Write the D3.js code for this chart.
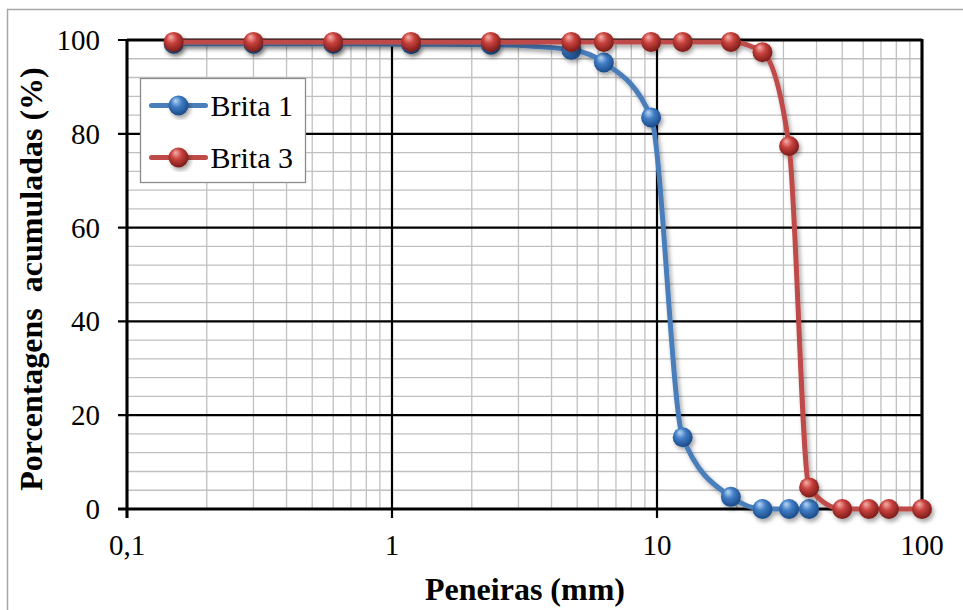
<!DOCTYPE html>
<html>
<head>
<meta charset="utf-8">
<script src="https://cdn.jsdelivr.net/npm/d3@7"></script>
<style>
  html, body { margin: 0; padding: 0; background: #fff; }
  svg { display: block; }
  .tick-label { font-family: "Liberation Serif", "DejaVu Serif", serif; font-size: 29px; fill: #000; }
  .axis-title { font-family: "Liberation Serif", "DejaVu Serif", serif; font-size: 32px; font-weight: bold; fill: #000; }
  .legend-label { font-family: "Liberation Serif", "DejaVu Serif", serif; font-size: 30px; fill: #000; }
</style>
</head>
<body>
<div id="chart"></div>
<script>
// sieve openings (mm) and cumulative retained (%)
const sieves1 = [0.15, 0.3, 0.6, 1.18, 2.36, 4.75, 6.3, 9.5, 12.5, 19, 25, 31.5, 37.5];
const brita1 = [99.2, 99.2, 99.2, 99.1, 99.0, 97.9, 95.2, 83.5, 15.3, 2.6, 0, 0, 0];

const sieves3 = [0.15, 0.3, 0.6, 1.18, 2.36, 4.75, 6.3, 9.5, 12.5, 19, 25, 31.5, 37.5, 50, 63, 75, 100];
const brita3 = [99.6, 99.6, 99.6, 99.6, 99.6, 99.6, 99.6, 99.6, 99.6, 99.6, 97.4, 77.4, 4.6, 0, 0, 0, 0];

const xTicks = [0.1, 1, 10, 100];
const xTickLabels = ["0,1", "1", "10", "100"];
const yTicks = [0, 20, 40, 60, 80, 100];

const seriesNames = ["Brita 1", "Brita 3"];

const W = 963, H = 610;
const margin = {top: 40, right: 41, bottom: 101, left: 127},
    width = W - margin.left - margin.right,
    height = H - margin.top - margin.bottom;

const svg = d3.select("#chart")
    .append("svg")
    .attr("width", W)
    .attr("height", H);

// outer chart frame (cropped on the right and bottom)
svg.append("rect")
    .attr("x", 7.5).attr("y", 9.5)
    .attr("width", 1000).attr("height", 700)
    .attr("fill", "none")
    .attr("stroke", "#a6a6a6")
    .attr("stroke-width", 1.5);

const defs = svg.append("defs");

const shadow = defs.append("filter")
    .attr("id", "shadow")
    .attr("x", "-20%").attr("y", "-20%")
    .attr("width", "140%").attr("height", "140%");
shadow.append("feDropShadow")
    .attr("dx", 2).attr("dy", 3)
    .attr("stdDeviation", 2)
    .attr("flood-color", "#000")
    .attr("flood-opacity", 0.35);

function sphereGradient(id, light, mid, dark) {
    const g = defs.append("radialGradient")
        .attr("id", id)
        .attr("cx", "45%").attr("cy", "40%").attr("r", "60%")
        .attr("fx", "35%").attr("fy", "25%");
    g.append("stop").attr("offset", "0%").attr("stop-color", light);
    g.append("stop").attr("offset", "45%").attr("stop-color", mid);
    g.append("stop").attr("offset", "100%").attr("stop-color", dark);
}
sphereGradient("ball-blue", "#b9d6f6", "#3f7cc4", "#1b4a86");
sphereGradient("ball-red", "#f6b1ad", "#c8413d", "#7a1b19");

const lineColors = ["#4a7ebb", "#be4b48"];
const balls = ["url(#ball-blue)", "url(#ball-red)"];

const g = svg.append("g")
    .attr("transform", `translate(${margin.left},${margin.top})`);

const xScale = d3.scaleLog()
    .domain([0.1, 100])
    .range([0, width]);

const yScale = d3.scaleLinear()
    .domain([0, 100])
    .range([height, 0]);

// minor gridlines
const minorX = [];
[0.1, 1, 10].forEach(d => { for (let k = 2; k <= 9; k++) minorX.push(d * k); });
const minorY = d3.range(0, 101, 4).filter(v => v % 20 !== 0);

g.selectAll(".minor-x")
    .data(minorX)
    .enter().append("line")
    .attr("class", "minor-x")
    .attr("x1", d => xScale(d)).attr("x2", d => xScale(d))
    .attr("y1", 0).attr("y2", height)
    .attr("stroke", "#c0c0c0")
    .attr("stroke-width", 1.3);

g.selectAll(".minor-y")
    .data(minorY)
    .enter().append("line")
    .attr("class", "minor-y")
    .attr("x1", 0).attr("x2", width)
    .attr("y1", d => yScale(d)).attr("y2", d => yScale(d))
    .attr("stroke", "#c0c0c0")
    .attr("stroke-width", 1.3);

// major gridlines
g.selectAll(".major-x")
    .data(xTicks)
    .enter().append("line")
    .attr("class", "major-x")
    .attr("x1", d => xScale(d)).attr("x2", d => xScale(d))
    .attr("y1", 0).attr("y2", height + 9)
    .attr("stroke", "#000")
    .attr("stroke-width", 2.2);

g.selectAll(".major-y")
    .data(yTicks)
    .enter().append("line")
    .attr("class", "major-y")
    .attr("x1", -9).attr("x2", width)
    .attr("y1", d => yScale(d)).attr("y2", d => yScale(d))
    .attr("stroke", "#000")
    .attr("stroke-width", 2.2);

// axis lines a bit heavier
g.append("line")
    .attr("x1", 0).attr("x2", 0)
    .attr("y1", 0).attr("y2", height + 9)
    .attr("stroke", "#000").attr("stroke-width", 3);
g.append("line")
    .attr("x1", -9).attr("x2", width + 1)
    .attr("y1", height).attr("y2", height)
    .attr("stroke", "#000").attr("stroke-width", 3);
g.append("line")
    .attr("x1", width).attr("x2", width)
    .attr("y1", -1).attr("y2", height)
    .attr("stroke", "#000").attr("stroke-width", 3);
g.append("line")
    .attr("x1", 0).attr("x2", width)
    .attr("y1", 0).attr("y2", 0)
    .attr("stroke", "#000").attr("stroke-width", 3);

// tick labels
g.selectAll(".x-label")
    .data(xTicks)
    .enter().append("text")
    .attr("class", "tick-label")
    .attr("text-anchor", "middle")
    .attr("x", d => xScale(d))
    .attr("y", height + 46)
    .text((d, i) => xTickLabels[i]);

g.selectAll(".y-label")
    .data(yTicks)
    .enter().append("text")
    .attr("class", "tick-label")
    .attr("text-anchor", "end")
    .attr("x", -27)
    .attr("y", d => yScale(d) + 10)
    .text(d => d);

// axis titles
svg.append("text")
    .attr("class", "axis-title")
    .attr("text-anchor", "middle")
    .attr("x", 525)
    .attr("y", 600)
    .text("Peneiras (mm)");

svg.append("text")
    .attr("class", "axis-title")
    .attr("text-anchor", "middle")
    .attr("transform", "rotate(-90)")
    .attr("x", -279)
    .attr("y", 42)
    .attr("xml:space", "preserve")
    .style("white-space", "pre")
    .text("Porcentagens  acumuladas (%)");

// series
const line = d3.line()
    .x(d => xScale(d[0]))
    .y(d => yScale(d[1]))
    .curve(d3.curveMonotoneX);

const series = [
    d3.zip(sieves1, brita1),
    d3.zip(sieves3, brita3)
];

series.forEach((pts, i) => {
    const sg = g.append("g").attr("filter", "url(#shadow)");
    sg.append("path")
        .datum(pts)
        .attr("d", line)
        .attr("fill", "none")
        .attr("stroke", lineColors[i])
        .attr("stroke-width", 5)
        .attr("stroke-linejoin", "round");
    sg.selectAll(".dot")
        .data(pts)
        .enter().append("circle")
        .attr("class", "dot")
        .attr("cx", d => xScale(d[0]))
        .attr("cy", d => yScale(d[1]))
        .attr("r", 10)
        .attr("fill", balls[i]);
});

// legend
const legend = svg.append("g").attr("transform", "translate(140.5,78.5)");
legend.append("rect")
    .attr("width", 165).attr("height", 104)
    .attr("fill", "#fff")
    .attr("stroke", "#8c8c8c")
    .attr("stroke-width", 1.3);

seriesNames.forEach((name, i) => {
    const ly = 27 + i * 52;
    const lg = legend.append("g");
    lg.append("line")
        .attr("x1", 11).attr("x2", 65)
        .attr("y1", ly).attr("y2", ly)
        .attr("stroke", lineColors[i])
        .attr("stroke-width", 5)
        .attr("stroke-linecap", "round");
    lg.append("circle")
        .attr("cx", 38).attr("cy", ly)
        .attr("r", 10)
        .attr("fill", balls[i])
        .attr("filter", "url(#shadow)");
    legend.append("text")
        .attr("class", "legend-label")
        .attr("x", 70)
        .attr("y", ly + 10)
        .text(name);
});
</script>
</body>
</html>
